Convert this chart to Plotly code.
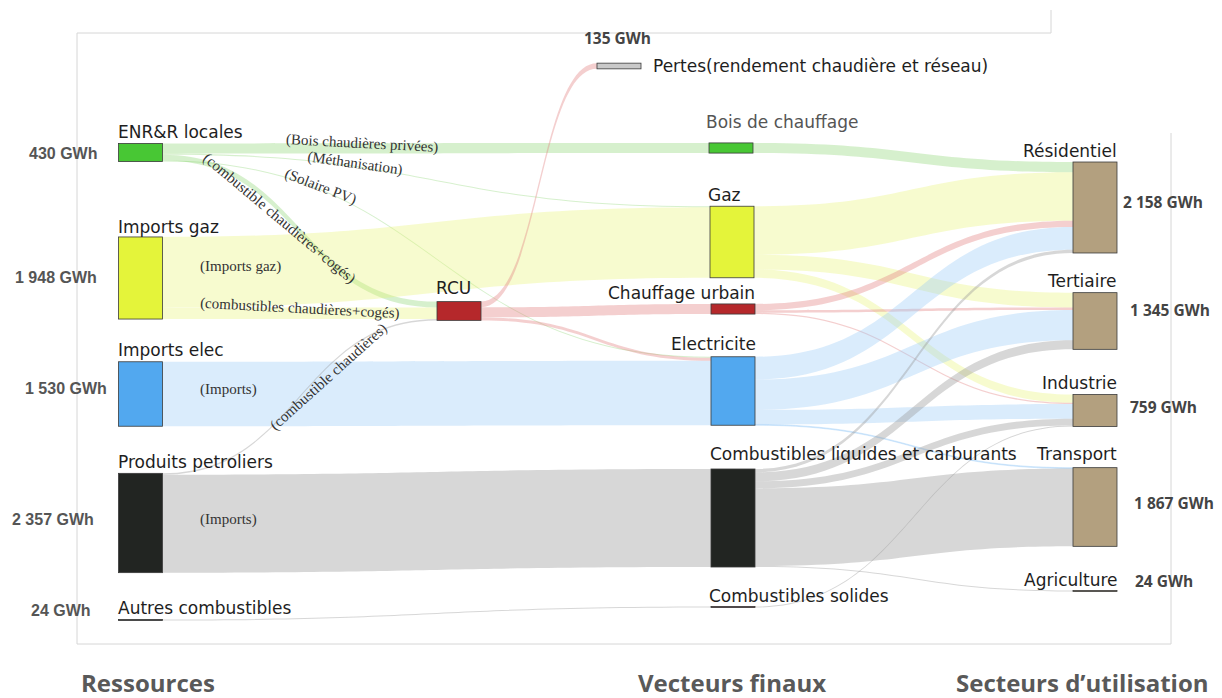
import plotly.graph_objects as go

# ---------------- data ----------------
node_names = [
    "ENR&R locales", "Imports gaz", "Imports elec", "Produits petroliers", "Autres combustibles",
    "RCU", "Pertes(rendement chaudière et réseau)",
    "Bois de chauffage", "Gaz", "Chauffage urbain", "Electricite",
    "Combustibles liquides et carburants", "Combustibles solides",
    "Résidentiel", "Tertiaire", "Industrie", "Transport", "Agriculture",
]

link_source = ["ENR&R locales", "ENR&R locales", "ENR&R locales", "ENR&R locales",
               "Imports gaz", "Imports gaz", "Imports elec",
               "Produits petroliers", "Produits petroliers", "Autres combustibles",
               "RCU", "RCU", "RCU",
               "Bois de chauffage",
               "Gaz", "Gaz", "Gaz",
               "Chauffage urbain", "Chauffage urbain", "Chauffage urbain",
               "Electricite", "Electricite", "Electricite", "Electricite",
               "Combustibles liquides et carburants", "Combustibles liquides et carburants",
               "Combustibles liquides et carburants", "Combustibles liquides et carburants",
               "Combustibles liquides et carburants",
               "Combustibles solides"]
link_target = ["Bois de chauffage", "RCU", "Gaz", "Electricite",
               "Gaz", "RCU", "Electricite",
               "Combustibles liquides et carburants", "RCU", "Combustibles solides",
               "Pertes(rendement chaudière et réseau)", "Chauffage urbain", "Electricite",
               "Résidentiel",
               "Résidentiel", "Tertiaire", "Industrie",
               "Résidentiel", "Tertiaire", "Industrie",
               "Résidentiel", "Tertiaire", "Industrie", "Transport",
               "Résidentiel", "Tertiaire", "Industrie", "Transport", "Agriculture",
               "Industrie"]
link_value = [241, 139, 25, 25,
              1673, 275, 1530,
              2326, 31, 24,
              135, 240, 70,
              241,
              1150, 350, 198,
              150, 60, 30,
              540, 720, 345, 20,
              78, 215, 162, 1847, 24,
              24]

link_labels = ["(Bois chaudières privées)", "(Méthanisation)", "(Solaire PV)",
               "(combustible chaudières+cogés)", "(Imports gaz)",
               "(combustibles chaudières+cogés)", "(Imports)", "(combustible chaudières)",
               "(Imports)"]

total_labels = {"ENR&R locales": "430 GWh", "Imports gaz": "1 948 GWh", "Imports elec": "1 530 GWh",
                "Produits petroliers": "2 357 GWh", "Autres combustibles": "24 GWh",
                "Pertes(rendement chaudière et réseau)": "135 GWh",
                "Résidentiel": "2 158 GWh", "Tertiaire": "1 345 GWh", "Industrie": "759 GWh",
                "Transport": "1 867 GWh", "Agriculture": "24 GWh"}

column_titles = ["Ressources", "Vecteurs finaux", "Secteurs d’utilisation"]

# ---------------- layout / style ----------------
W, H = 1222, 698
DX0, DX1 = 100, 1140          # sankey domain in px
DY0, DY1 = 30, 650

# node centres (px)
node_pos = {
    "ENR&R locales": (140.5, 152.5), "Imports gaz": (140.5, 278), "Imports elec": (140.5, 394),
    "Produits petroliers": (140.5, 523), "Autres combustibles": (140.5, 620),
    "RCU": (459, 311), "Pertes(rendement chaudière et réseau)": (619, 66),
    "Bois de chauffage": (731, 148), "Gaz": (732, 242), "Chauffage urbain": (733, 309),
    "Electricite": (733, 391), "Combustibles liquides et carburants": (733, 518),
    "Combustibles solides": (733, 607),
    "Résidentiel": (1095, 207.5), "Tertiaire": (1095, 321), "Industrie": (1095, 410.5),
    "Transport": (1095, 507), "Agriculture": (1095, 591),
}

GREEN, YELLOW, BLUE, BLACK = "#48c734", "#e4f43a", "#52a8ef", "#222522"
RED, GREY, TAN, DARKRED = "#b5282b", "#c9c9c9", "#b3a07f", "#5a1a25"
node_colors = {
    "ENR&R locales": GREEN, "Imports gaz": YELLOW, "Imports elec": BLUE,
    "Produits petroliers": BLACK, "Autres combustibles": BLACK,
    "RCU": RED, "Pertes(rendement chaudière et réseau)": GREY,
    "Bois de chauffage": GREEN, "Gaz": YELLOW, "Chauffage urbain": RED, "Electricite": BLUE,
    "Combustibles liquides et carburants": BLACK, "Combustibles solides": DARKRED,
    "Résidentiel": TAN, "Tertiaire": TAN, "Industrie": TAN, "Transport": TAN, "Agriculture": TAN,
}
link_rgba = {
    GREEN: "rgba(120,205,90,0.30)", YELLOW: "rgba(232,244,110,0.33)", BLUE: "rgba(150,200,245,0.35)",
    BLACK: "rgba(150,150,150,0.38)", RED: "rgba(225,130,130,0.38)", DARKRED: "rgba(150,150,150,0.4)",
}

idx = {n: i for i, n in enumerate(node_names)}

fig = go.Figure(go.Sankey(
    arrangement="fixed",
    domain=dict(x=[DX0 / W, DX1 / W], y=[1 - DY1 / H, 1 - DY0 / H]),
    node=dict(
        label=["" for _ in node_names],
        customdata=node_names,
        hovertemplate="%{customdata}: %{value} GWh<extra></extra>",
        x=[(node_pos[n][0] - DX0) / (DX1 - DX0) for n in node_names],
        y=[(node_pos[n][1] - DY0) / (DY1 - DY0) for n in node_names],
        color=[node_colors[n] for n in node_names],
        line=dict(color="#3a3a3a", width=0.8),
        thickness=44,
        pad=71,
    ),
    link=dict(
        source=[idx[s] for s in link_source],
        target=[idx[t] for t in link_target],
        value=link_value,
        color=[link_rgba[node_colors[s]] for s in link_source],
        hovertemplate="%{source.customdata} → %{target.customdata}: %{value} GWh<extra></extra>",
    ),
))


def px(x, y):
    return x / W, 1 - y / H


annotations = []


def add(text, x, y, xanchor="left", size=17, color="#1e1e1e", family="DejaVu Sans",
        angle=0, bold=False, yanchor="middle"):
    ax, ay = px(x, y)
    annotations.append(dict(
        text=f"<b>{text}</b>" if bold else text, x=ax, y=ay, xref="paper", yref="paper",
        xanchor=xanchor, yanchor=yanchor, showarrow=False, textangle=angle,
        font=dict(size=size, color=color, family=family)))


# node labels
label_pos = {
    "ENR&R locales": (116, 132, "left"), "Imports gaz": (116, 227, "left"),
    "Imports elec": (116, 350, "left"), "Produits petroliers": (116, 462, "left"),
    "Autres combustibles": (116, 608, "left"), "RCU": (434, 288, "left"),
    "Pertes(rendement chaudière et réseau)": (651, 66, "left"),
    "Bois de chauffage": (704, 122, "left"), "Gaz": (706, 195, "left"),
    "Chauffage urbain": (757, 293, "right"), "Electricite": (758, 344, "right"),
    "Combustibles liquides et carburants": (708, 454, "left"),
    "Combustibles solides": (707, 596, "left"),
    "Résidentiel": (1119, 151, "right"), "Tertiaire": (1119, 281, "right"),
    "Industrie": (1119, 383, "right"), "Transport": (1119, 454, "right"),
    "Agriculture": (1120, 580, "right"),
}
for n in node_names:
    x, y, a = label_pos[n]
    col = "#555555" if n == "Bois de chauffage" else "#1e1e1e"
    add(n, x, y, xanchor=a, color=col)

# totals
total_pos = {
    "ENR&R locales": (99, 153, "right"), "Imports gaz": (99, 277, "right"),
    "Imports elec": (109, 388, "right"), "Produits petroliers": (96, 519, "right"),
    "Autres combustibles": (93, 610, "right"),
    "Pertes(rendement chaudière et réseau)": (617, 38, "center"),
    "Résidentiel": (1121, 202, "left"), "Tertiaire": (1128, 310, "left"),
    "Industrie": (1128, 407, "left"), "Transport": (1132, 503, "left"),
    "Agriculture": (1133, 581, "left"),
}
left_side = {"ENR&R locales", "Imports gaz", "Imports elec", "Produits petroliers", "Autres combustibles"}
for n, t in total_labels.items():
    x, y, a = total_pos[n]
    if n in left_side:
        add(t, x, y, xanchor=a, size=16, color="#555555", family="Liberation Sans", bold=True)
    else:
        add(t, x, y, xanchor=a, size=15.5, color="#444444", family="Open Sans", bold=True)

# link annotations (x, y, angle, anchor)
link_label_pos = [(362, 143, 3, "center"), (355, 164, 8, "center"), (320, 186, 21, "center"),
                  (279, 219, 40, "center"), (198, 266, 0, "left"), (198, 308, 3, "left"),
                  (198, 389, 0, "left"), (328, 377, -42, "center"), (198, 519, 0, "left")]
for t, (x, y, a, anc) in zip(link_labels, link_label_pos):
    add(t, x, y, xanchor=anc, size=15, color="#333333", family="Liberation Serif", angle=a)

# column titles
for t, x in zip(column_titles, [79, 636, 954]):
    add(t, x, 682, xanchor="left", size=24, color="#595959", family="Open Sans", bold=True)

frame = dict(type="line", xref="paper", yref="paper", layer="below",
             line=dict(color="#d6d6d6", width=1))
segments = [((77, 33), (1051, 33)), ((1051, 10), (1051, 33)), ((77, 33), (77, 644)),
            ((77, 644), (1171, 644)), ((1171, 133), (1171, 644))]
shapes = []
for (x0, y0), (x1, y1) in segments:
    a0, b0 = px(x0, y0)
    a1, b1 = px(x1, y1)
    shapes.append({**frame, "x0": a0, "y0": b0, "x1": a1, "y1": b1})

fig.update_layout(
    width=W, height=H, margin=dict(l=0, r=0, t=0, b=0),
    paper_bgcolor="white", plot_bgcolor="white",
    annotations=annotations, shapes=shapes, showlegend=False,
)

fig.write_html("out.html", config={"displayModeBar": False},
               post_script="document.body.style.margin='0px';document.body.style.overflow='hidden';")
